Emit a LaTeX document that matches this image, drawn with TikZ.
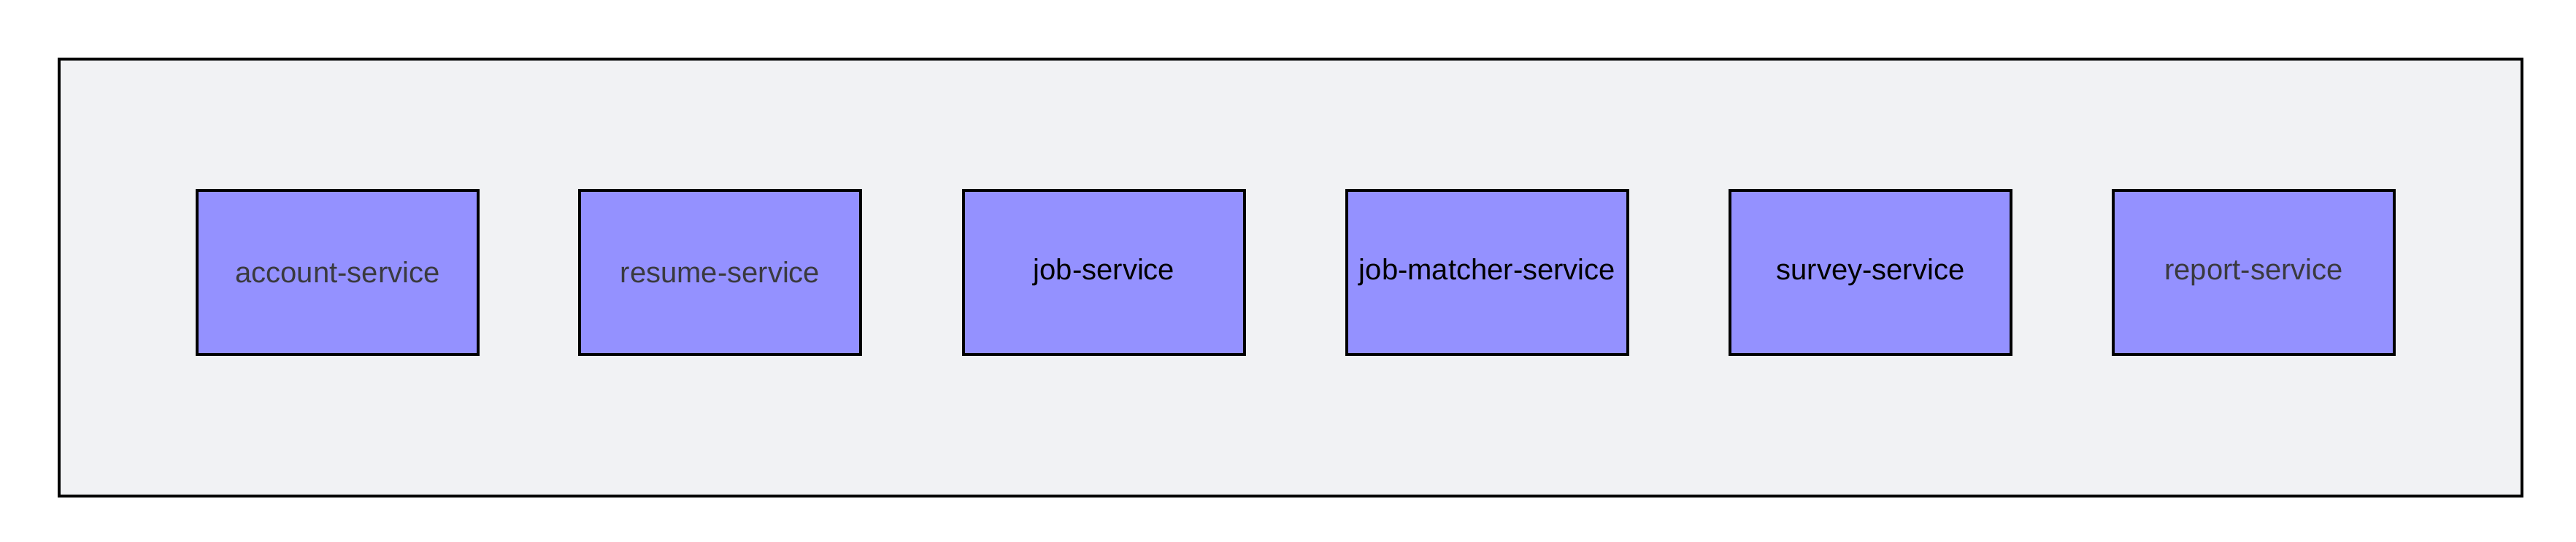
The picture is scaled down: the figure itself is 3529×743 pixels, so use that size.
\documentclass[tikz,border=0pt]{standalone}
\usepackage{fontspec}
\setmainfont{Liberation Sans}
\definecolor{bgpanel}{HTML}{F1F2F4}
\definecolor{svcfill}{HTML}{9491FF}
\definecolor{darktxt}{HTML}{3A3A3F}
\begin{document}
\begin{tikzpicture}[x=1pt,y=-1pt,
  panel/.style={draw=black,fill=bgpanel,line width=3.5pt},
  svc/.style={draw=black,fill=svcfill,line width=3.5pt,minimum width=385pt,minimum height=225pt,inner sep=0pt,font=\fontsize{40}{48}\selectfont},
  grey/.style={text=darktxt},
  blk/.style={text=black}]
\useasboundingbox (0,0) rectangle (3529,743);
\fill[white] (0,0) rectangle (3529,743);
\draw[panel] (81,81) rectangle (3455,680);
\node[svc,grey] (account) at (462.5,373.5) {account-service};
\node[svc,grey] (resume) at (986.5,373.5) {resume-service};
\node[svc,blk] (job) at (1512.5,373.5) {job-service};
\node[svc,blk] (matcher) at (2037.5,373.5) {\raisebox{3pt}{job-matcher-service}};
\node[svc,blk] (survey) at (2562.5,373.5) {survey-service};
\node[svc,grey] (report) at (3087.5,373.5) {report-service};
\end{tikzpicture}
\end{document}
